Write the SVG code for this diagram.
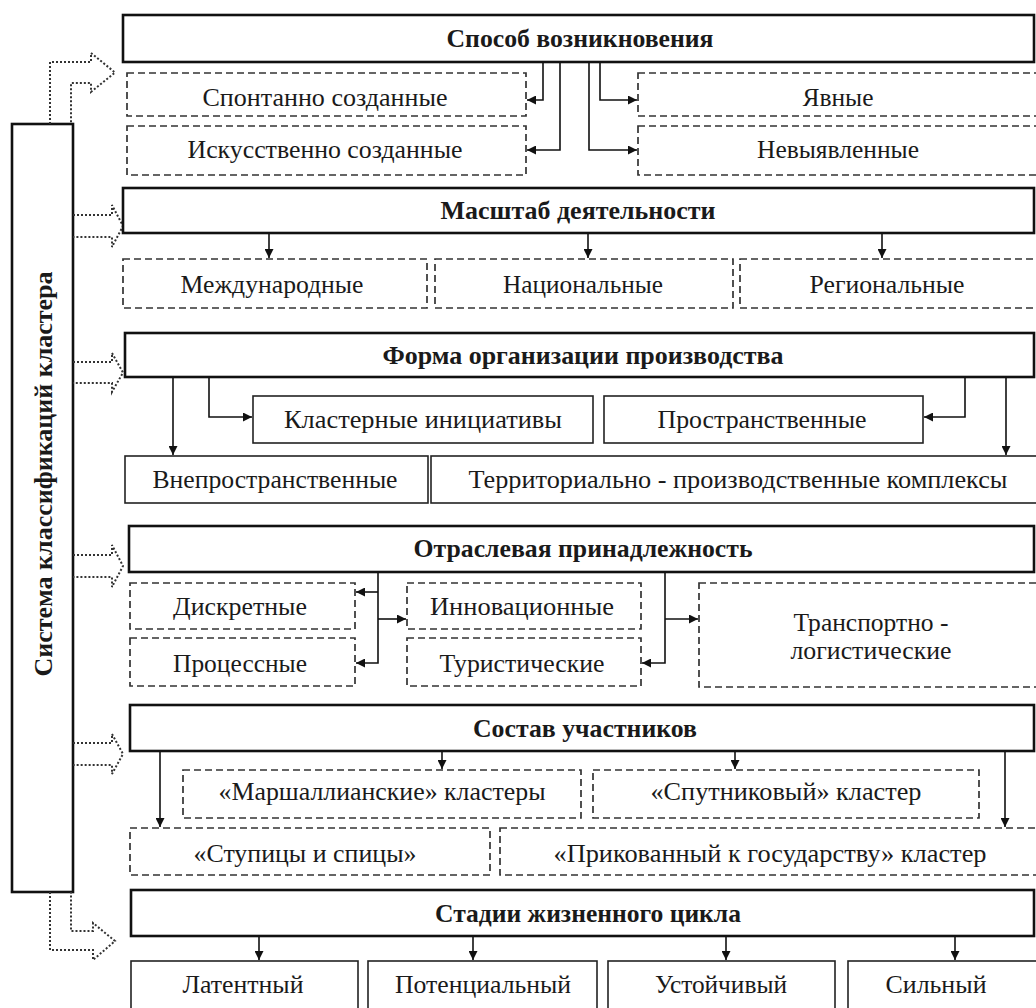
<svg xmlns="http://www.w3.org/2000/svg" width="1036" height="1008" viewBox="0 0 1036 1008">
<style>
.hdr{fill:#fff;stroke:#111;stroke-width:2.6}
.box{fill:#fff;stroke:#222;stroke-width:1.6}
.dbox{fill:#fff;stroke:#333;stroke-width:1.7;stroke-dasharray:7 4}
.side{fill:#fff;stroke:#111;stroke-width:2.6}
.dot{fill:none;stroke:#333;stroke-width:2;stroke-dasharray:2 2}
.con{fill:none;stroke:#111;stroke-width:1.6}
text{font-family:"Liberation Serif","Times New Roman","DejaVu Serif",serif;font-size:26px;font-weight:normal;fill:#1a1a1a;text-anchor:middle}
text.b{font-weight:bold}
</style>
<defs>
<marker id="ah" viewBox="0 0 10 10" refX="10" refY="5" markerWidth="9" markerHeight="9" markerUnits="userSpaceOnUse" orient="auto">
<path d="M0,0 L10,5 L0,10 z" fill="#111"/>
</marker>
</defs>
<rect width="1036" height="1008" fill="#fff"/>

<g id="system">
<rect class="side" x="12" y="124" width="61" height="768"/>
<text class="b" transform="translate(52,474) rotate(-90)" textLength="405" lengthAdjust="spacingAndGlyphs">Система классификаций кластера</text>
</g>

<g id="dotted-arrows">
<path class="dot" d="M50,124 V62 H91 V53 L115,72.5 L91,92 V83 H71 V124"/>
<path class="dot" d="M73,215 H112 V205 L123,226 L112,247 V237 H73"/>
<path class="dot" d="M73,362 H112 V353 L123,372.5 L112,392 V383 H73"/>
<path class="dot" d="M73,555 H112 V545 L123,566 L112,587 V577 H73"/>
<path class="dot" d="M73,743 H112 V734 L123,754 L112,774 V765 H73"/>
<path class="dot" d="M50,892 V950 H93 V960 L115,941 L93,923 V931 H71 V892"/>
</g>

<g id="connectors">
<path class="con" d="M543,62 V100 H527" marker-end="url(#ah)"/>
<path class="con" d="M560,62 V150 H527" marker-end="url(#ah)"/>
<path class="con" d="M589,62 V150 H637" marker-end="url(#ah)"/>
<path class="con" d="M600,62 V100 H637" marker-end="url(#ah)"/>
<path class="con" d="M269,233 V258" marker-end="url(#ah)"/>
<path class="con" d="M588,233 V258" marker-end="url(#ah)"/>
<path class="con" d="M882,233 V258" marker-end="url(#ah)"/>
<path class="con" d="M173,377 V455" marker-end="url(#ah)"/>
<path class="con" d="M209,377 V417 H252" marker-end="url(#ah)"/>
<path class="con" d="M965,377 V417 H924" marker-end="url(#ah)"/>
<path class="con" d="M1006,377 V455" marker-end="url(#ah)"/>
<path class="con" d="M378,572 V663 H356" marker-end="url(#ah)"/>
<path class="con" d="M378,592 H356" marker-end="url(#ah)"/>
<path class="con" d="M378,619 H406" marker-end="url(#ah)"/>
<path class="con" d="M665,572 V663 H642" marker-end="url(#ah)"/>
<path class="con" d="M665,619 H698" marker-end="url(#ah)"/>
<path class="con" d="M160,751 V827" marker-end="url(#ah)"/>
<path class="con" d="M442,751 V769" marker-end="url(#ah)"/>
<path class="con" d="M735,751 V769" marker-end="url(#ah)"/>
<path class="con" d="M1005,751 V827" marker-end="url(#ah)"/>
<path class="con" d="M259,936 V960" marker-end="url(#ah)"/>
<path class="con" d="M473,936 V960" marker-end="url(#ah)"/>
<path class="con" d="M726,936 V960" marker-end="url(#ah)"/>
<path class="con" d="M955,936 V960" marker-end="url(#ah)"/>
</g>

<g id="h1"><rect class="hdr" x="123" y="15" width="911" height="47"/><text class="b" x="580" y="47" textLength="267" lengthAdjust="spacingAndGlyphs">Способ возникновения</text></g>
<g id="n-spont"><rect class="dbox" x="127" y="73" width="399" height="43"/><text x="325" y="106" textLength="245" lengthAdjust="spacingAndGlyphs">Спонтанно созданные</text></g>
<g id="n-isk"><rect class="dbox" x="127" y="126" width="399" height="49"/><text x="325" y="158" textLength="275" lengthAdjust="spacingAndGlyphs">Искусственно созданные</text></g>
<g id="n-yav"><rect class="dbox" x="638" y="73" width="400" height="43"/><text x="838" y="106" textLength="71" lengthAdjust="spacingAndGlyphs">Явные</text></g>
<g id="n-nev"><rect class="dbox" x="638" y="126" width="400" height="49"/><text x="838" y="158" textLength="162" lengthAdjust="spacingAndGlyphs">Невыявленные</text></g>

<g id="h2"><rect class="hdr" x="123" y="188" width="911" height="45"/><text class="b" x="578" y="219" textLength="275" lengthAdjust="spacingAndGlyphs">Масштаб деятельности</text></g>
<g id="n-mezh"><rect class="dbox" x="123" y="259" width="304" height="49"/><text x="272" y="293" textLength="183" lengthAdjust="spacingAndGlyphs">Международные</text></g>
<g id="n-nac"><rect class="dbox" x="435" y="259" width="298" height="49"/><text x="583" y="293" textLength="160" lengthAdjust="spacingAndGlyphs">Национальные</text></g>
<g id="n-reg"><rect class="dbox" x="740" y="259" width="298" height="49"/><text x="887" y="293" textLength="155" lengthAdjust="spacingAndGlyphs">Региональные</text></g>

<g id="h3"><rect class="hdr" x="125" y="333" width="909" height="44"/><text class="b" x="583" y="364" textLength="401" lengthAdjust="spacingAndGlyphs">Форма организации производства</text></g>
<g id="n-klin"><rect class="box" x="253" y="396" width="340" height="47"/><text x="423" y="428" textLength="278" lengthAdjust="spacingAndGlyphs">Кластерные инициативы</text></g>
<g id="n-prostr"><rect class="box" x="604" y="396" width="319" height="47"/><text x="762" y="428" textLength="209" lengthAdjust="spacingAndGlyphs">Пространственные</text></g>
<g id="n-vnepr"><rect class="box" x="125" y="456" width="303" height="47"/><text x="275" y="488" textLength="245" lengthAdjust="spacingAndGlyphs">Внепространственные</text></g>
<g id="n-terr"><rect class="box" x="431" y="456" width="607" height="47"/><text x="738" y="488" textLength="539" lengthAdjust="spacingAndGlyphs">Территориально - производственные комплексы</text></g>

<g id="h4"><rect class="hdr" x="129" y="526" width="905" height="46"/><text class="b" x="583" y="557" textLength="339" lengthAdjust="spacingAndGlyphs">Отраслевая принадлежность</text></g>
<g id="n-diskr"><rect class="dbox" x="130" y="583" width="225" height="46"/><text x="240" y="615" textLength="134" lengthAdjust="spacingAndGlyphs">Дискретные</text></g>
<g id="n-proc"><rect class="dbox" x="130" y="638" width="225" height="48"/><text x="240" y="672" textLength="134" lengthAdjust="spacingAndGlyphs">Процессные</text></g>
<g id="n-innov"><rect class="dbox" x="407" y="583" width="234" height="46"/><text x="522" y="615" textLength="184" lengthAdjust="spacingAndGlyphs">Инновационные</text></g>
<g id="n-turist"><rect class="dbox" x="407" y="638" width="234" height="48"/><text x="522" y="672" textLength="165" lengthAdjust="spacingAndGlyphs">Туристические</text></g>
<g id="n-transp"><rect class="dbox" x="699" y="583" width="339" height="104"/><text x="871" y="631" textLength="155" lengthAdjust="spacingAndGlyphs">Транспортно -</text><text x="871" y="659" textLength="161" lengthAdjust="spacingAndGlyphs">логистические</text></g>

<g id="h5"><rect class="hdr" x="130" y="705" width="904" height="46"/><text class="b" x="585" y="737" textLength="224" lengthAdjust="spacingAndGlyphs">Состав участников</text></g>
<g id="n-marsh"><rect class="dbox" x="183" y="770" width="398" height="48"/><text x="382" y="800" textLength="327" lengthAdjust="spacingAndGlyphs">«Маршаллианские» кластеры</text></g>
<g id="n-sput"><rect class="dbox" x="593" y="770" width="386" height="48"/><text x="786" y="800" textLength="271" lengthAdjust="spacingAndGlyphs">«Спутниковый» кластер</text></g>
<g id="n-stup"><rect class="dbox" x="130" y="828" width="360" height="47"/><text x="305" y="862" textLength="223" lengthAdjust="spacingAndGlyphs">«Ступицы и спицы»</text></g>
<g id="n-prik"><rect class="dbox" x="500" y="828" width="538" height="47"/><text x="770" y="862" textLength="433" lengthAdjust="spacingAndGlyphs">«Прикованный к государству» кластер</text></g>

<g id="h6"><rect class="hdr" x="131" y="890" width="903" height="46"/><text class="b" x="588" y="922" textLength="306" lengthAdjust="spacingAndGlyphs">Стадии жизненного цикла</text></g>
<g id="n-lat"><rect class="box" x="131" y="961" width="227" height="52"/><text x="243" y="993" textLength="121" lengthAdjust="spacingAndGlyphs">Латентный</text></g>
<g id="n-pot"><rect class="box" x="368" y="961" width="229" height="52"/><text x="483" y="993" textLength="176" lengthAdjust="spacingAndGlyphs">Потенциальный</text></g>
<g id="n-ust"><rect class="box" x="608" y="961" width="227" height="52"/><text x="721" y="993" textLength="132" lengthAdjust="spacingAndGlyphs">Устойчивый</text></g>
<g id="n-sil"><rect class="box" x="848" y="961" width="190" height="52"/><text x="936" y="993" textLength="101" lengthAdjust="spacingAndGlyphs">Сильный</text></g>
</svg>
